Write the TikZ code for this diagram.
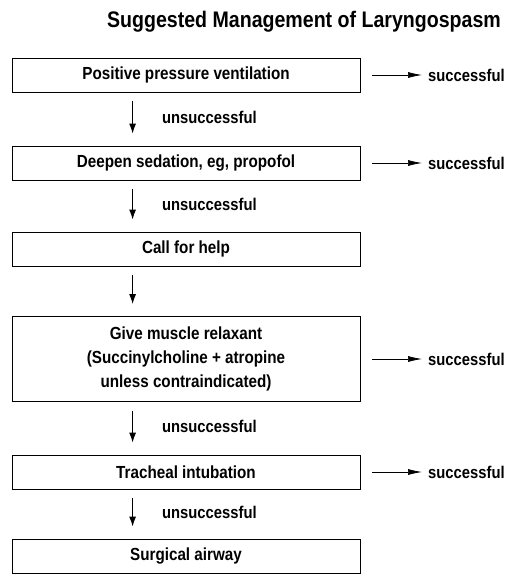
\documentclass[tikz,border=0pt]{standalone}
\usepackage{fontspec}
\setmainfont{Liberation Sans}[FakeStretch=0.87]
\usetikzlibrary{arrows.meta}
\tikzset{
  stepbox/.style={draw, line width=0.8pt, minimum width=348pt, minimum height=34pt, align=center, font=\fontsize{17.5}{24}\selectfont\bfseries},
  down/.style={-{Latex[length=10pt,width=7pt]}, line width=1.1pt, shorten <=9pt, shorten >=12pt},
  side/.style={-{Latex[length=14pt,width=6pt]}, line width=0.7pt, shorten <=12pt, shorten >=6pt},
  lbl/.style={inner sep=0pt, font=\fontsize{17}{20}\selectfont\bfseries}
}
\begin{document}
\begin{tikzpicture}[x=1pt, y=-1pt]
\useasboundingbox (0,0) rectangle (509,577);
\node[font=\fontsize{22.5}{26}\selectfont\bfseries] (title) at (304,22) {Suggested Management of Laryngospasm};
% boxes
\node[stepbox] (b1) at (186,75) {Positive pressure ventilation};
\node[stepbox] (b2) at (186,163) {Deepen sedation, eg, propofol};
\node[stepbox] (b3) at (186,249) {Call for help};
\node[stepbox, minimum height=85pt] (b4) at (186,359) {Give muscle relaxant\\(Succinylcholine + atropine\\unless contraindicated)};
\node[stepbox] (b5) at (186,472) {Tracheal intubation};
\node[stepbox] (b6) at (186,556) {Surgical airway};
% outcomes
\foreach \b in {1,2,4,5}
  \node[lbl, anchor=west] (s\b) at (428,0 |- b\b) {successful};
\foreach \b in {1,2,4,5}
  \draw[side] (b\b.east) -- (s\b.west);
% down arrows
\foreach \a/\b/\t in {1/2/unsuccessful, 2/3/unsuccessful, 3/4/, 4/5/unsuccessful, 5/6/unsuccessful}
  \draw[down] ([xshift=121pt]b\a.south west) -- ([xshift=121pt]b\b.north west)
    node[lbl, midway, anchor=west, xshift=29pt, yshift=2pt] {\t};
\end{tikzpicture}
\end{document}
